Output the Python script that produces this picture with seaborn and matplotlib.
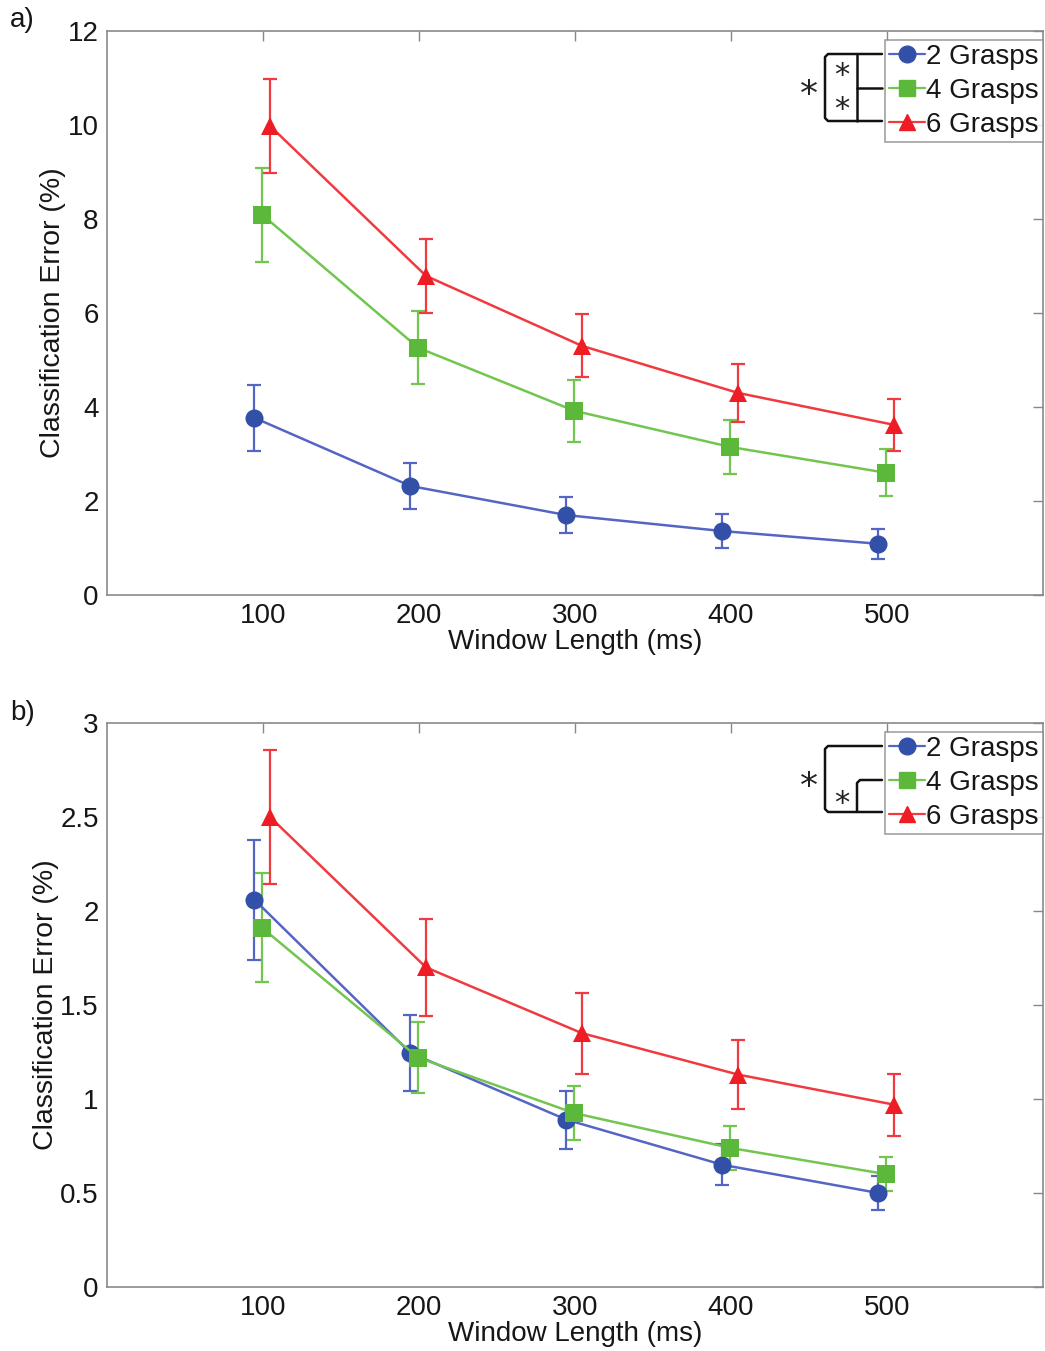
import numpy as np
import pandas as pd
import matplotlib
matplotlib.use("Agg")
import matplotlib.pyplot as plt
from matplotlib.ticker import FormatStrFormatter
import seaborn as sns

# Window lengths (ms) and group names
windows = [100, 200, 300, 400, 500]
groups = ["2 Grasps", "4 Grasps", "6 Grasps"]

# Panel a) mean classification error (%) and error-bar half widths
a_mean_2 = [3.77, 2.32, 1.70, 1.36, 1.09]
a_err_2 = [0.70, 0.48, 0.39, 0.36, 0.32]
a_mean_4 = [8.09, 5.26, 3.92, 3.15, 2.60]
a_err_4 = [1.00, 0.78, 0.66, 0.57, 0.50]
a_mean_6 = [9.98, 6.79, 5.30, 4.30, 3.62]
a_err_6 = [1.00, 0.78, 0.67, 0.62, 0.55]

# Panel b) mean classification error (%) and error-bar half widths
b_mean_2 = [2.06, 1.245, 0.89, 0.65, 0.50]
b_err_2 = [0.32, 0.20, 0.155, 0.11, 0.09]
b_mean_4 = [1.91, 1.22, 0.925, 0.74, 0.60]
b_err_4 = [0.29, 0.19, 0.145, 0.115, 0.09]
b_mean_6 = [2.50, 1.70, 1.35, 1.13, 0.97]
b_err_6 = [0.355, 0.26, 0.215, 0.185, 0.165]

# Tick values
a_yticks = [0, 2, 4, 6, 8, 10, 12]
b_yticks = [0, 0.5, 1, 1.5, 2, 2.5, 3]

# Styling per group
colors = {"2 Grasps": "#3350A8", "4 Grasps": "#5CB83A", "6 Grasps": "#EE1C24"}
line_colors = {"2 Grasps": "#5565C4", "4 Grasps": "#72C650", "6 Grasps": "#F03A40"}
markers = {"2 Grasps": "o", "4 Grasps": "s", "6 Grasps": "^"}
dodge = {"2 Grasps": -5.5, "4 Grasps": -0.5, "6 Grasps": 4.5}


def make_frame(means, errs):
    rows = []
    for g, m, e in zip(groups, means, errs):
        for w, mv, ev in zip(windows, m, e):
            rows.append({"window": w, "group": g, "error": mv, "sem": ev})
    df = pd.DataFrame(rows)
    df["xpos"] = df["window"] + df["group"].map(dodge)
    return df


sns.set_theme(style="white")
plt.rcParams["font.family"] = ["Liberation Sans", "DejaVu Sans"]

fig = plt.figure(figsize=(10.45, 13.51), dpi=100)
ax_a = fig.add_axes([107 / 1045, 1 - 595 / 1351, (1043 - 107) / 1045, (595 - 31) / 1351])
ax_b = fig.add_axes([107 / 1045, 1 - 1287 / 1351, (1043 - 107) / 1045, (1287 - 723) / 1351])

FS = 20
TXT = "#161616"


def draw_panel(ax, df, yticks, ylim):
    for g in groups:
        sub = df[df["group"] == g]
        ax.errorbar(sub["xpos"], sub["error"], yerr=sub["sem"], fmt="none",
                    ecolor=line_colors[g], elinewidth=1.6, capsize=4.7, capthick=1.6,
                    zorder=2)
    sns.lineplot(data=df, x="xpos", y="error", hue="group", style="group",
                 hue_order=groups, style_order=groups,
                 palette=line_colors, markers=markers, dashes=False,
                 markersize=13, markeredgewidth=0, linewidth=1.8,
                 sort=True, estimator=None, ax=ax, zorder=3, legend=False)
    # recolour marker faces to the saturated group colours
    for line, g in zip(ax.get_lines()[-len(groups):], groups):
        line.set_markerfacecolor(colors[g])
        line.set_markeredgecolor(colors[g])
    ax.set_xlim(0, 600)
    ax.set_ylim(*ylim)
    ax.set_xticks(windows)
    ax.set_yticks(yticks)
    ax.yaxis.set_major_formatter(FormatStrFormatter("%g"))
    ax.tick_params(direction="in", length=7, width=1, color="#888888",
                   top=True, right=True, labelsize=FS, labelcolor=TXT, pad=6)
    for s in ax.spines.values():
        s.set_color("#8a8a8a")
        s.set_linewidth(1.2)
    ax.set_xlabel("Window Length (ms)", fontsize=FS, color=TXT, labelpad=0)
    ax.set_ylabel("Classification Error (%)", fontsize=FS + 0.5, color=TXT, labelpad=1)

    # legend box with line+marker handles
    handles = [plt.Line2D([], [], color=line_colors[g], marker=markers[g],
                          markerfacecolor=colors[g], markeredgecolor=colors[g],
                          markersize=12, linewidth=1.6) for g in groups]
    leg = ax.legend(handles, groups, loc="upper right", bbox_to_anchor=(1.0, 0.984),
                    fontsize=FS, frameon=True, fancybox=False, handlelength=1.3,
                    handletextpad=0.05, borderpad=0.15, labelspacing=0.28,
                    borderaxespad=0.0)
    leg.get_frame().set_edgecolor("#8a8a8a")
    leg.get_frame().set_linewidth(1.2)
    for t in leg.get_texts():
        t.set_color(TXT)


draw_panel(ax_a, make_frame([a_mean_2, a_mean_4, a_mean_6], [a_err_2, a_err_4, a_err_6]),
           a_yticks, (0, 12))
draw_panel(ax_b, make_frame([b_mean_2, b_mean_4, b_mean_6], [b_err_2, b_err_4, b_err_6]),
           b_yticks, (0, 3))


# Significance brackets beside the legends (figure pixel coordinates)
def px(x, y):
    return x / 1045, 1 - y / 1351


def seg(points):
    xs, ys = zip(*[px(*p) for p in points])
    fig.add_artist(plt.Line2D(xs, ys, color="#111111", linewidth=1.8,
                              transform=fig.transFigure, solid_joinstyle="round"))


def star(x, y, size=26):
    fx, fy = px(x, y)
    fig.text(fx, fy, "*", fontsize=size, ha="center", va="center", color="#222222",
             family="DejaVu Sans")


# panel a: 2-6 outer, 2-4 and 4-6 inner
seg([(882, 54), (828, 54), (825, 57), (825, 118), (828, 121), (882, 121)])
seg([(857, 54), (857, 121)])
seg([(857, 88), (882, 88)])
star(809, 95)
star(842, 76, 22)
star(842, 110, 22)

# panel b: 2-6 outer, 4-6 inner
seg([(882, 746), (828, 746), (825, 749), (825, 809), (828, 812), (882, 812)])
seg([(882, 780), (860, 780), (857, 783), (857, 812)])
star(809, 787)
star(842, 804, 22)

# panel letters
fig.text(10 / 1045, 1 - 20 / 1351, "a)", fontsize=FS, va="center", ha="left", color=TXT)
fig.text(10 / 1045, 1 - 713 / 1351, "b)", fontsize=FS, va="center", ha="left", color=TXT)

fig.savefig("out.png", dpi=100, facecolor="white")
